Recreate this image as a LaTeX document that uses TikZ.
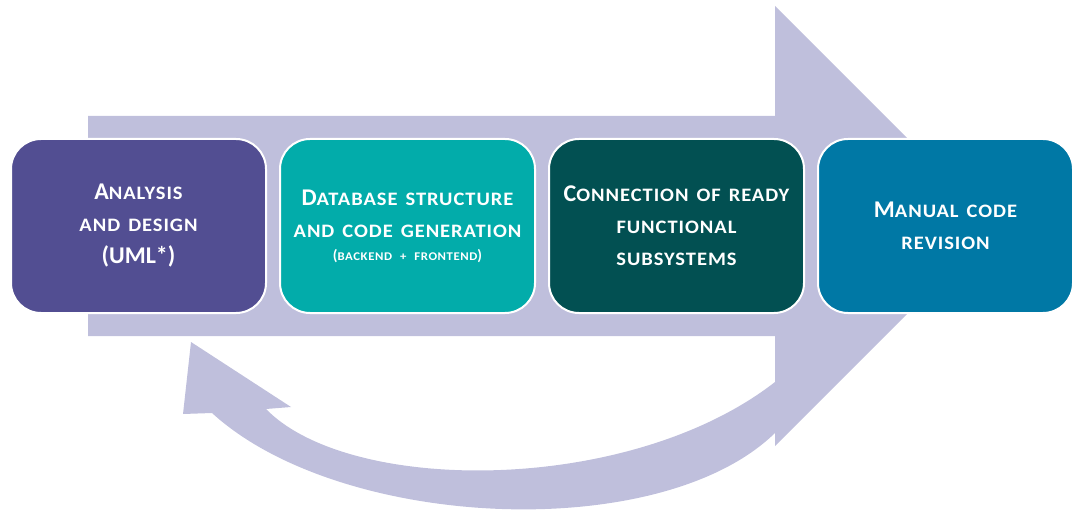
\documentclass[tikz,border=0pt]{standalone}
\usepackage{fontspec}
\setmainfont{Carlito}
\newfontfamily\capsfont{Carlito}[FakeStretch=1.08, LetterSpace=5]
\usetikzlibrary{positioning}

\definecolor{flowlav}{HTML}{BFBFDC}
\definecolor{boxpurple}{HTML}{524E92}
\definecolor{boxteal}{HTML}{02ACAA}
\definecolor{boxdark}{HTML}{025052}
\definecolor{boxblue}{HTML}{0078A5}

% small capitals made by hand (Carlito has none)
\newcommand\smc[1]{{\capsfont\bfseries\fontsize{19}{32}\selectfont #1}}
\newcommand\smcnote[1]{{\capsfont\bfseries\fontsize{11.8}{23}\selectfont #1}}

\tikzset{
stepbox/.style={rectangle, rounded corners=30pt, draw=white, line width=2pt,
  minimum width=255pt, minimum height=174pt, text width=252pt, align=center,
  inner sep=0pt, text=white, font=\fontsize{24}{32}\selectfont\bfseries}
}

\begin{document}
\begin{tikzpicture}[x=1pt, y=-1pt]
\useasboundingbox (0,0) rectangle (1083,518);

% big arrow behind the boxes
\fill[flowlav] (88,116) -- (775,116) -- (775,6) -- (995,226) -- (775,446)
  -- (775,336) -- (88,336) -- cycle;

% return arrow
\fill[flowlav] (191,342) -- (291,407) -- (266,409)
  .. controls (350,495) and (630,495) .. (775,382) -- (775,433)
  .. controls (660,545) and (340,530) .. (212,413) -- (183,414) -- cycle;

\node[stepbox, fill=boxpurple] (analysis) at (138.5,226)
  {A\smc{NALYSIS}\\\smc{AND DESIGN}\\(UML*)};
\node[stepbox, fill=boxteal, right=12pt of analysis] (dbgen)
  {D\smc{ATABASE STRUCTURE}\\\smc{AND CODE GENERATION}\\[-9pt]{\fontsize{15}{23}\selectfont (\smcnote{BACKEND + FRONTEND})}};
\node[stepbox, fill=boxdark, right=12pt of dbgen] (connect)
  {C\smc{ONNECTION OF READY}\\\smc{FUNCTIONAL}\\\smc{SUBSYSTEMS}};
\node[stepbox, fill=boxblue, right=12pt of connect] (revision)
  {M\smc{ANUAL CODE}\\\smc{REVISION}};

\end{tikzpicture}
\end{document}
